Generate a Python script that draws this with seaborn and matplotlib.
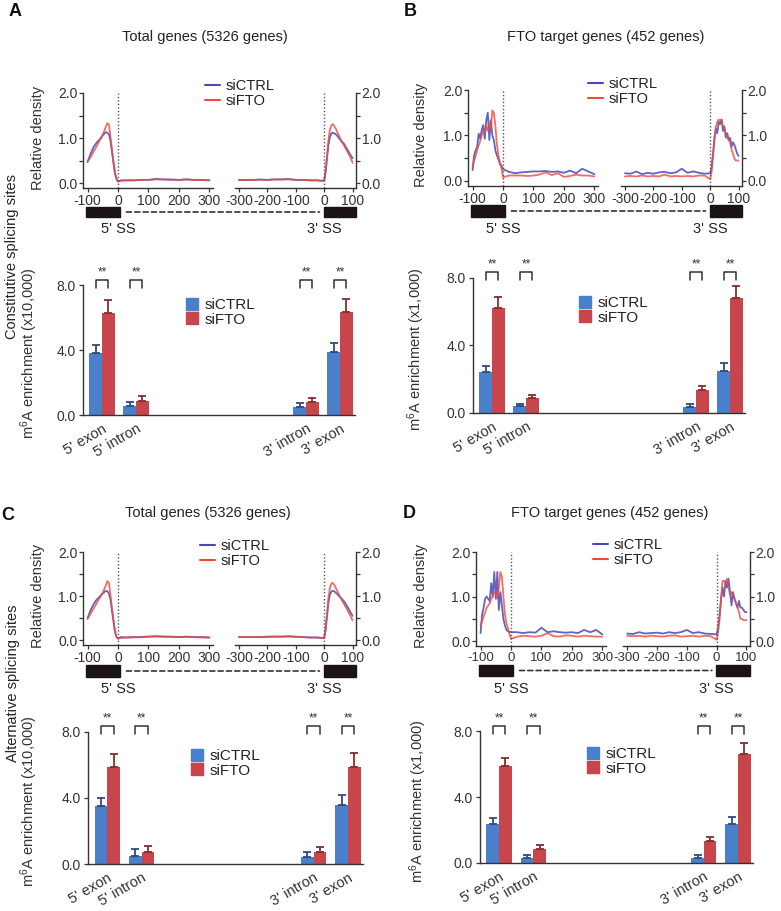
"""
m6A density around splice sites and m6A enrichment bars (4 panels)
"""
import matplotlib
matplotlib.use('Agg')
import matplotlib.pyplot as plt
import seaborn as sns
import pandas as pd
from matplotlib.patches import Rectangle, ConnectionPatch
from matplotlib.lines import Line2D

W, H = 781, 911

sns.set_theme(style='ticks')
plt.rcParams.update({
    'font.family': ['Liberation Sans', 'DejaVu Sans'],
    'mathtext.fontset': 'custom',
    'mathtext.rm': 'Liberation Sans',
    'mathtext.it': 'Liberation Sans:italic',
    'axes.unicode_minus': False,
    'axes.edgecolor': '#333333',
    'axes.linewidth': 1.0,
    'xtick.color': '#333333',
    'ytick.color': '#333333',
    'text.color': '#222222',
    'axes.labelcolor': '#333333',
})

# ==================== Colors ====================
LINE_CTRL = '#4848b8'
LINE_FTO = '#ee4a3c'
BAR_CTRL = '#4a7fcb'
BAR_FTO = '#c8454b'
ERR_CTRL = '#2f4a7c'
ERR_FTO = '#852d2d'

# ==================== Density data ====================
# smooth profiles (total genes)
POS5_SMOOTH = [-100, -90, -80, -70, -60, -50, -40, -35, -30, -25, -20, -15, -10, -5, 0,
               10, 25, 50, 75, 100, 125, 150, 175, 200, 225, 250, 275, 300]
POS3_SMOOTH = [-300, -275, -250, -225, -200, -175, -150, -125, -100, -75, -50, -25, -10, 0,
               5, 10, 15, 20, 25, 30, 35, 40, 50, 60, 70, 80, 90, 100]

A_CTRL_5 = [0.47, 0.65, 0.80, 0.90, 0.97, 1.06, 1.13, 1.12, 1.08, 0.95, 0.70, 0.45, 0.22, 0.10, 0.04,
            0.06, 0.06, 0.06, 0.07, 0.07, 0.09, 0.08, 0.08, 0.07, 0.08, 0.07, 0.07, 0.06]
A_FTO_5 = [0.47, 0.58, 0.70, 0.82, 0.95, 1.07, 1.25, 1.33, 1.30, 1.05, 0.75, 0.48, 0.22, 0.08, 0.03,
           0.05, 0.06, 0.06, 0.07, 0.07, 0.08, 0.08, 0.07, 0.07, 0.08, 0.07, 0.07, 0.06]
A_CTRL_3 = [0.07, 0.07, 0.07, 0.08, 0.07, 0.08, 0.08, 0.09, 0.07, 0.07, 0.06, 0.06, 0.05, 0.06,
            0.25, 0.55, 0.85, 1.02, 1.10, 1.12, 1.10, 1.09, 1.02, 0.93, 0.87, 0.76, 0.65, 0.55]
A_FTO_3 = [0.07, 0.07, 0.07, 0.07, 0.07, 0.08, 0.08, 0.08, 0.07, 0.07, 0.06, 0.06, 0.05, 0.05,
           0.25, 0.60, 0.95, 1.18, 1.28, 1.31, 1.27, 1.22, 1.08, 0.94, 0.83, 0.72, 0.60, 0.45]

C_CTRL_5 = [0.50, 0.68, 0.82, 0.92, 0.99, 1.06, 1.12, 1.11, 1.06, 0.93, 0.68, 0.43, 0.20, 0.08, 0.04,
            0.07, 0.06, 0.07, 0.07, 0.08, 0.09, 0.08, 0.08, 0.07, 0.08, 0.07, 0.07, 0.06]
C_FTO_5 = [0.48, 0.60, 0.72, 0.84, 0.96, 1.08, 1.24, 1.34, 1.30, 1.04, 0.73, 0.46, 0.20, 0.07, 0.03,
           0.05, 0.06, 0.06, 0.07, 0.08, 0.08, 0.08, 0.07, 0.07, 0.07, 0.07, 0.06, 0.06]
C_CTRL_3 = [0.07, 0.07, 0.07, 0.07, 0.08, 0.08, 0.08, 0.09, 0.08, 0.07, 0.06, 0.06, 0.05, 0.05,
            0.24, 0.55, 0.86, 1.03, 1.10, 1.12, 1.11, 1.08, 1.02, 0.95, 0.88, 0.78, 0.66, 0.55]
C_FTO_3 = [0.07, 0.07, 0.07, 0.07, 0.07, 0.08, 0.08, 0.08, 0.07, 0.07, 0.06, 0.06, 0.05, 0.05,
           0.24, 0.60, 0.96, 1.18, 1.28, 1.30, 1.26, 1.20, 1.06, 0.93, 0.82, 0.70, 0.58, 0.45]

# noisy profiles (FTO target genes)
POS5_NOISY = [-100, -95, -90, -85, -80, -75, -70, -65, -60, -55, -50, -45, -40, -35, -30, -25,
              -20, -15, -10, -5, 0, 20, 40, 60, 80, 100, 120, 140, 160, 180, 200, 220, 240,
              260, 280, 300]
POS3_NOISY = [-300, -280, -260, -240, -220, -200, -180, -160, -140, -120, -100, -80, -60, -40,
              -20, 0, 5, 10, 15, 20, 25, 30, 35, 40, 45, 50, 55, 60, 65, 70, 75, 80, 85, 90,
              95, 100]

B_CTRL_5 = [0.24, 0.56, 0.67, 0.75, 1.04, 0.93, 1.12, 1.23, 0.93, 1.34, 1.50, 0.90, 1.34, 1.00,
            0.90, 0.67, 0.56, 0.48, 0.37, 0.34, 0.26, 0.20, 0.17, 0.19, 0.20, 0.21, 0.21, 0.22,
            0.20, 0.21, 0.18, 0.23, 0.17, 0.27, 0.21, 0.15]
B_FTO_5 = [0.30, 0.45, 0.55, 0.68, 0.78, 0.88, 1.00, 1.10, 1.05, 1.20, 1.10, 1.28, 1.15, 1.55,
           1.50, 1.20, 0.80, 0.55, 0.40, 0.28, 0.08, 0.12, 0.12, 0.12, 0.11, 0.12, 0.14, 0.19,
           0.13, 0.17, 0.09, 0.11, 0.14, 0.12, 0.12, 0.10]
B_CTRL_3 = [0.17, 0.16, 0.21, 0.15, 0.18, 0.16, 0.19, 0.20, 0.17, 0.19, 0.27, 0.18, 0.21, 0.18,
            0.16, 0.17, 0.30, 0.60, 0.95, 1.15, 1.05, 1.30, 1.25, 1.35, 1.10, 1.20, 0.95, 1.05,
            0.90, 0.95, 0.75, 0.85, 0.80, 0.70, 0.60, 0.55]
B_FTO_3 = [0.10, 0.11, 0.10, 0.12, 0.10, 0.11, 0.10, 0.14, 0.10, 0.11, 0.10, 0.11, 0.10, 0.12,
           0.12, 0.04, 0.20, 0.55, 0.90, 1.20, 1.30, 1.35, 1.32, 1.35, 1.20, 1.10, 1.05, 1.00,
           0.90, 0.85, 0.70, 0.60, 0.50, 0.45, 0.45, 0.45]

D_CTRL_5 = [0.18, 0.60, 0.75, 0.95, 1.00, 0.95, 0.90, 1.30, 1.00, 1.55, 0.95, 1.55, 0.70, 1.10,
            0.80, 0.50, 0.35, 0.25, 0.22, 0.21, 0.20, 0.20, 0.18, 0.20, 0.19, 0.30, 0.20, 0.22,
            0.20, 0.19, 0.20, 0.18, 0.25, 0.20, 0.25, 0.15]
D_FTO_5 = [0.35, 0.45, 0.55, 0.65, 0.75, 0.80, 0.85, 0.95, 1.00, 1.10, 1.10, 0.95, 1.20, 1.55,
           1.45, 1.00, 0.60, 0.40, 0.30, 0.15, 0.05, 0.10, 0.12, 0.11, 0.10, 0.12, 0.18, 0.11,
           0.10, 0.13, 0.12, 0.10, 0.12, 0.11, 0.10, 0.10]
D_CTRL_3 = [0.17, 0.16, 0.20, 0.17, 0.18, 0.19, 0.17, 0.20, 0.18, 0.20, 0.25, 0.18, 0.20, 0.17,
            0.16, 0.15, 0.30, 0.60, 0.95, 1.20, 1.00, 1.35, 1.20, 1.40, 1.10, 0.80, 1.10, 0.95,
            0.85, 0.75, 0.90, 0.75, 0.75, 0.70, 0.65, 0.65]
D_FTO_3 = [0.12, 0.11, 0.12, 0.10, 0.12, 0.11, 0.10, 0.12, 0.13, 0.10, 0.11, 0.12, 0.10, 0.12,
           0.11, 0.03, 0.20, 0.50, 0.95, 1.35, 1.35, 1.30, 1.40, 1.20, 1.05, 1.10, 1.00, 0.95,
           0.85, 0.75, 0.65, 0.50, 0.50, 0.47, 0.47, 0.47]

# ==================== Bar data ====================
REGIONS = ["5' exon", "5' intron", "3' intron", "3' exon"]
BAR_POS = [0, 1, 6, 7]

A_BAR_CTRL = [3.85, 0.57, 0.52, 3.88]
A_ERR_CTRL = [0.45, 0.22, 0.25, 0.55]
A_BAR_FTO = [6.29, 0.88, 0.82, 6.37]
A_ERR_FTO = [0.77, 0.30, 0.24, 0.81]

B_BAR_CTRL = [2.41, 0.40, 0.36, 2.47]
B_ERR_CTRL = [0.36, 0.15, 0.17, 0.51]
B_BAR_FTO = [6.19, 0.89, 1.36, 6.78]
B_ERR_FTO = [0.69, 0.20, 0.24, 0.75]

C_BAR_CTRL = [3.52, 0.51, 0.45, 3.56]
C_ERR_CTRL = [0.47, 0.38, 0.30, 0.63]
C_BAR_FTO = [5.85, 0.75, 0.75, 5.85]
C_ERR_FTO = [0.77, 0.36, 0.26, 0.85]

D_BAR_CTRL = [2.37, 0.32, 0.32, 2.37]
D_ERR_CTRL = [0.34, 0.14, 0.18, 0.44]
D_BAR_FTO = [5.91, 0.86, 1.31, 6.63]
D_ERR_FTO = [0.50, 0.21, 0.26, 0.65]

BAR_WIDTH = 0.74


# ==================== Helpers ====================
def px_axes(fig, x0, y0, x1, y1):
    """Add axes from pixel box (top-left origin)"""
    return fig.add_axes([x0 / W, 1 - y1 / H, (x1 - x0) / W, (y1 - y0) / H])


def fig_xy(x, y):
    return x / W, 1 - y / H


def density_panel(fig, lbox, rbox, pos5, ctrl5, fto5, pos3, ctrl3, fto3,
                  gene_y, legend_xy, ylabel_x, xtick_fs=10):
    axl = px_axes(fig, *lbox)
    axr = px_axes(fig, *rbox)

    sns.lineplot(x=pos5, y=ctrl5, ax=axl, color=LINE_CTRL, lw=1.3, alpha=0.85)
    sns.lineplot(x=pos5, y=fto5, ax=axl, color=LINE_FTO, lw=1.3, alpha=0.8)
    sns.lineplot(x=pos3, y=ctrl3, ax=axr, color=LINE_CTRL, lw=1.3, alpha=0.85)
    sns.lineplot(x=pos3, y=fto3, ax=axr, color=LINE_FTO, lw=1.3, alpha=0.8)

    for ax in (axl, axr):
        ax.set_ylim(-0.11, 2.0)
        ax.set_yticks([0, 1, 2])
        ax.set_yticks([0.5, 1.5], minor=True)
        ax.set_yticklabels(['0.0', '1.0', '2.0'])
        ax.axvline(0, color='#555555', ls=(0, (1, 1.5)), lw=1.0)
        ax.spines['top'].set_visible(False)
        ax.tick_params(labelsize=10, length=3, width=0.9, pad=1)
        ax.tick_params(axis='x', labelsize=xtick_fs)
        ax.tick_params(which='minor', length=3, width=0.9)
        ax.set_xlabel('')
        ax.set_ylabel('')

    axl.set_xlim(-115, 312)
    axl.set_xticks([-100, 0, 100, 200, 300])
    axl.spines['right'].set_visible(False)
    axl.set_ylabel('Relative density', fontsize=10.5)
    axl.yaxis.set_label_coords((ylabel_x - lbox[0]) / (lbox[2] - lbox[0]), 0.53)

    axr.set_xlim(-314, 112)
    axr.set_xticks([-300, -200, -100, 0, 100])
    axr.spines['left'].set_visible(False)
    axr.yaxis.tick_right()

    # gene model below the axes
    hpx = lbox[3] - lbox[1]
    top = (lbox[3] - gene_y[0]) / hpx
    bot = (lbox[3] - gene_y[1]) / hpx
    mid = (top + bot) / 2
    lab = (lbox[3] - gene_y[2]) / hpx
    axl.add_patch(Rectangle((-106, bot), 111, top - bot, transform=axl.get_xaxis_transform(),
                            clip_on=False, color='#1c1414'))
    axr.add_patch(Rectangle((-2, bot), 114, top - bot, transform=axr.get_xaxis_transform(),
                            clip_on=False, color='#1c1414'))
    fig.add_artist(ConnectionPatch((5, mid), (-2, mid),
                                   coordsA=axl.get_xaxis_transform(),
                                   coordsB=axr.get_xaxis_transform(),
                                   ls=(0, (3, 2)), lw=1.2, color='#333333',
                                   shrinkA=5, shrinkB=3))
    axl.text(0, lab, "5' SS", transform=axl.get_xaxis_transform(), ha='center', va='center',
             fontsize=10.5)
    axr.text(0, lab, "3' SS", transform=axr.get_xaxis_transform(), ha='center', va='center',
             fontsize=10.5)

    handles = [Line2D([], [], color=LINE_CTRL, lw=1.5), Line2D([], [], color=LINE_FTO, lw=1.5)]
    fig.legend(handles, ['siCTRL', 'siFTO'], loc='upper left',
               bbox_to_anchor=fig_xy(legend_xy[0], legend_xy[1] - 8), frameon=False,
               fontsize=10.5, handlelength=1.0, handletextpad=0.4, labelspacing=0.1,
               borderpad=0, borderaxespad=0)


def bar_panel(fig, box, ctrl, ctrl_err, fto, fto_err, ylabel, ylabel_x, legend_xy):
    ax = px_axes(fig, *box)
    df = pd.DataFrame({
        'pos': BAR_POS + BAR_POS,
        'value': ctrl + fto,
        'cond': ['siCTRL'] * len(ctrl) + ['siFTO'] * len(fto),
    })
    sns.barplot(data=df, x='pos', y='value', hue='cond', native_scale=True, width=BAR_WIDTH,
                palette={'siCTRL': BAR_CTRL, 'siFTO': BAR_FTO}, saturation=1,
                errorbar=None, legend=False, linewidth=0, ax=ax)

    # upper error bars
    for p in list(ax.patches):
        xc = p.get_x() + p.get_width() / 2
        g = int(round(xc))
        i = BAR_POS.index(g)
        is_ctrl = xc < g
        err = ctrl_err[i] if is_ctrl else fto_err[i]
        ax.errorbar(xc, p.get_height(), yerr=[[0], [err]], fmt='none',
                    ecolor=ERR_CTRL if is_ctrl else ERR_FTO, elinewidth=1.3,
                    capsize=3.2, capthick=1.3, zorder=1)

    # significance brackets
    for g in BAR_POS:
        xl, xr = g - BAR_WIDTH / 4, g + BAR_WIDTH / 4
        ax.plot([xl, xl, xr, xr], [7.85, 8.35, 8.35, 7.85], color='#333333', lw=1.1,
                clip_on=False)
        ax.text(g, 8.42, '**', ha='center', va='bottom', fontsize=8.5, color='#333333')

    ax.set_ylim(0, 9)
    ax.set_xlim(-0.56, 7.44)
    ax.set_yticks([0, 4, 8])
    ax.set_yticklabels(['0.0', '4.0', '8.0'])
    ax.spines['left'].set_bounds(0, 8)
    ax.spines['top'].set_visible(False)
    ax.spines['right'].set_visible(False)
    ax.set_xticks(BAR_POS)
    ax.set_xticklabels(REGIONS, rotation=30, ha='right', rotation_mode='anchor', fontsize=10.5)
    ax.tick_params(axis='x', length=0, pad=5)
    ax.tick_params(axis='y', labelsize=10, length=3, width=0.9, pad=2)
    ax.set_xlabel('')
    ax.set_ylabel(ylabel, fontsize=10.5)
    ax.yaxis.set_label_coords((ylabel_x - box[0]) / (box[2] - box[0]), 0.42)

    handles = [Line2D([], [], marker='s', ls='none', markersize=8, color=BAR_CTRL),
               Line2D([], [], marker='s', ls='none', markersize=8, color=BAR_FTO)]
    fig.legend(handles, ['siCTRL', 'siFTO'], loc='upper left',
               bbox_to_anchor=fig_xy(legend_xy[0], legend_xy[1] - 9), frameon=False,
               fontsize=11, handlelength=0.8, handletextpad=0.4, labelspacing=0.05,
               borderpad=0, borderaxespad=0)


# ==================== Figure ====================
fig = plt.figure(figsize=(W / 100, H / 100), dpi=100)

# Panel A
density_panel(fig, (83, 93, 213, 188), (235, 93, 356, 188),
              POS5_SMOOTH, A_CTRL_5, A_FTO_5, POS3_SMOOTH, A_CTRL_3, A_FTO_3,
              gene_y=(207, 217, 229), legend_xy=(205, 87), ylabel_x=45)
bar_panel(fig, (83, 269, 355, 415), A_BAR_CTRL, A_ERR_CTRL, A_BAR_FTO, A_ERR_FTO,
          r'm$^6$A enrichment (x10,000)', 40, (186, 307))

# Panel B
density_panel(fig, (468, 90, 598, 186), (621, 90, 742, 186),
              POS5_NOISY, B_CTRL_5, B_FTO_5, POS3_NOISY, B_CTRL_3, B_FTO_3,
              gene_y=(205, 217, 229), legend_xy=(588, 85), ylabel_x=428)
bar_panel(fig, (473, 261, 745, 413), B_BAR_CTRL, B_ERR_CTRL, B_BAR_FTO, B_ERR_FTO,
          r'm$^6$A enrichment (x1,000)', 427, (579, 305))

# Panel C
density_panel(fig, (83, 552, 213, 645), (235, 552, 356, 645),
              POS5_SMOOTH, C_CTRL_5, C_FTO_5, POS3_SMOOTH, C_CTRL_3, C_FTO_3,
              gene_y=(665, 677, 689), legend_xy=(200, 547), ylabel_x=45)
bar_panel(fig, (88, 715, 363, 864), C_BAR_CTRL, C_ERR_CTRL, C_BAR_FTO, C_ERR_FTO,
          r'm$^6$A enrichment (x10,000)', 40, (191, 758))

# Panel D
density_panel(fig, (476, 552, 606, 646), (623, 552, 750, 646),
              POS5_NOISY, D_CTRL_5, D_FTO_5, POS3_NOISY, D_CTRL_3, D_FTO_3,
              gene_y=(665, 676, 689), legend_xy=(593, 546), ylabel_x=428, xtick_fs=9.5)
bar_panel(fig, (480, 715, 753, 863), D_BAR_CTRL, D_ERR_CTRL, D_BAR_FTO, D_ERR_FTO,
          r'm$^6$A enrichment (x1,000)', 429, (587, 756))

# titles, panel letters, row labels
fig.text(*fig_xy(205, 37), 'Total genes (5326 genes)', ha='center', va='center', fontsize=10.5)
fig.text(*fig_xy(606, 37), 'FTO target genes (452 genes)', ha='center', va='center', fontsize=10.5)
fig.text(*fig_xy(208, 513), 'Total genes (5326 genes)', ha='center', va='center', fontsize=10.5)
fig.text(*fig_xy(610, 513), 'FTO target genes (452 genes)', ha='center', va='center', fontsize=10.5)

for letter, (x, y) in zip('ABCD', [(15, 12), (410, 12), (8, 515), (409, 514)]):
    fig.text(*fig_xy(x, y), letter, ha='center', va='center', fontsize=13, fontweight='bold',
             color='#111111')

fig.text(*fig_xy(12, 257), 'Constitutive splicing sites', rotation=90, ha='center',
         va='center', fontsize=10.5)
fig.text(*fig_xy(13, 683), 'Alternative splicing sites', rotation=90, ha='center',
         va='center', fontsize=10.5)

fig.savefig('out.png', dpi=100)
